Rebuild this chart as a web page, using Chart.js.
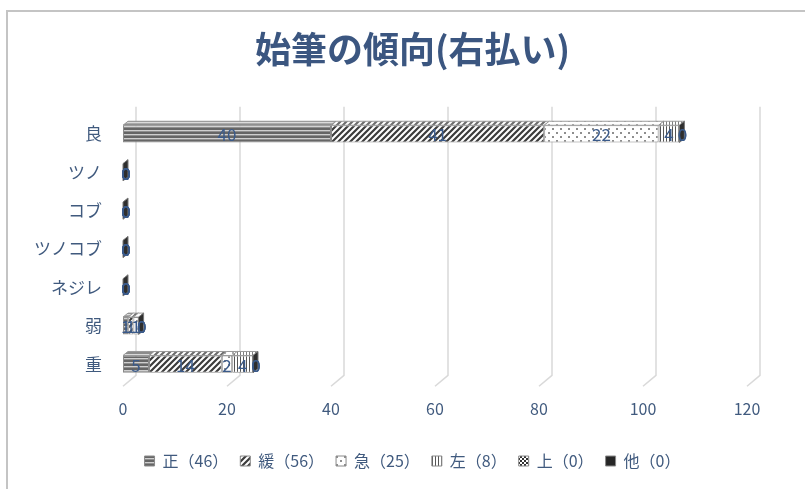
<!DOCTYPE html>
<html>
<head>
<meta charset="utf-8">
<script src="https://cdn.jsdelivr.net/npm/chart.js@4"></script>
<style>
  html, body { margin: 0; padding: 0; background: #fff; }
  #wrap { width: 805px; height: 489px; }
</style>
</head>
<body>
<div id="wrap"><canvas id="myChart" width="805" height="489"></canvas></div>
<script>
// chart data
const categories = ['良', 'ツノ', 'コブ', 'ツノコブ', 'ネジレ', '弱', '重'];
const seriesNames = ['正', '緩', '急', '左', '上', '他'];
const seiValues = [40, 0, 0, 0, 0, 1, 5];
const kanValues = [41, 0, 0, 0, 0, 1, 14];
const kyuValues = [22, 0, 0, 0, 0, 1, 2];
const hidariValues = [4, 0, 0, 0, 0, 0, 4];
const ueValues = [0, 0, 0, 0, 0, 0, 0];
const hokaValues = [0, 0, 0, 0, 0, 0, 0];
const xTickLabels = [0, 20, 40, 60, 80, 100, 120];

const titleText = '始筆の傾向(右払い)';
const textColor = '#405a7e';
const titleColor = '#3b5680';
const labelColor = '#3a5a8a';
const jpFont = "'Noto Sans CJK JP', 'Noto Sans', sans-serif";
const numFont = "'Liberation Sans Narrow', 'Noto Sans CJK JP', sans-serif";

// 3d depth of the bars and of the back wall
const barDx = 5, barDy = -4;
const wallDx = 13;

// fill patterns like the excel ones
const makePattern = (kind) => {
  const c = document.createElement('canvas');
  const g = c.getContext('2d');
  if (kind === 'horiz') {
    c.width = 4; c.height = 4;
    g.fillStyle = '#666666'; g.fillRect(0, 0, 4, 4);
    g.fillStyle = '#cfcfcf'; g.fillRect(0, 2, 4, 1);
    g.fillStyle = '#8e8e8e'; g.fillRect(0, 3, 4, 1);
  } else if (kind === 'diag') {
    c.width = 6; c.height = 6;
    g.fillStyle = '#ffffff'; g.fillRect(0, 0, 6, 6);
    g.strokeStyle = '#3c3c3c'; g.lineWidth = 2.2;
    g.beginPath();
    g.moveTo(-1, 7); g.lineTo(7, -1);
    g.moveTo(-4, 4); g.lineTo(4, -4);
    g.moveTo(2, 10); g.lineTo(10, 2);
    g.stroke();
  } else if (kind === 'dots') {
    c.width = 8; c.height = 8;
    g.fillStyle = '#ffffff'; g.fillRect(0, 0, 8, 8);
    g.fillStyle = '#8e8e8e';
    g.fillRect(0, 0, 2, 2); g.fillRect(4, 4, 2, 2);
  } else if (kind === 'vert') {
    c.width = 3; c.height = 3;
    g.fillStyle = '#ffffff'; g.fillRect(0, 0, 3, 3);
    g.fillStyle = '#555555'; g.fillRect(0, 0, 1, 3);
  } else if (kind === 'check') {
    c.width = 4; c.height = 4;
    g.fillStyle = '#ffffff'; g.fillRect(0, 0, 4, 4);
    g.fillStyle = '#333333'; g.fillRect(0, 0, 2, 2); g.fillRect(2, 2, 2, 2);
  } else {
    c.width = 2; c.height = 2;
    g.fillStyle = '#262626'; g.fillRect(0, 0, 2, 2);
  }
  return g.createPattern(c, 'repeat');
};

const seriesValues = [seiValues, kanValues, kyuValues, hidariValues, ueValues, hokaValues];
const seriesFills = ['horiz', 'diag', 'dots', 'vert', 'check', 'solid'].map(makePattern);

const sum = (arr) => arr.reduce((a, b) => a + b, 0);

const datasets = seriesNames.map((name, i) => ({
  label: name + '（' + sum(seriesValues[i]) + '）',
  data: seriesValues[i],
  backgroundColor: seriesFills[i],
  borderColor: '#8a8a8a',
  borderWidth: 1,
  borderSkipped: false,
  barPercentage: 0.45,
  categoryPercentage: 1,
}));

// outer frame (only top and left show in the picture)
const framePlugin = {
  id: 'frame',
  beforeDraw(chart) {
    const g = chart.ctx;
    g.save();
    g.fillStyle = '#ffffff';
    g.fillRect(0, 0, chart.width, chart.height);
    g.strokeStyle = '#c4c4c4';
    g.lineWidth = 2;
    g.beginPath();
    g.moveTo(7, chart.height);
    g.lineTo(7, 11);
    g.lineTo(chart.width, 11);
    g.stroke();
    g.restore();
  },
  // the y labels stick out left of the padded box: widen the label clip
  afterLayout(chart) {
    const ys = chart.scales.y;
    ys.left = 0;
    ys.width = ys.right;
  },
};

// gridlines on the back wall with the floor diagonal
const wallPlugin = {
  id: 'wall',
  beforeDatasetsDraw(chart) {
    const g = chart.ctx;
    const xs = chart.scales.x;
    const area = chart.chartArea;
    g.save();
    g.strokeStyle = '#d9d9d9';
    g.lineWidth = 1.5;
    xTickLabels.forEach((v) => {
      const x = xs.getPixelForValue(v);
      g.beginPath();
      g.moveTo(x + wallDx, area.top - 8);
      g.lineTo(x + wallDx, area.bottom - 8);
      g.lineTo(x, area.bottom + 3);
      g.stroke();
    });
    g.restore();
  },
};

// top and side faces of the bars, then the value labels
const bar3dPlugin = {
  id: 'bar3d',
  afterDatasetsDraw(chart) {
    const g = chart.ctx;
    const metas = chart.data.datasets.map((d, i) => chart.getDatasetMeta(i));
    g.save();
    categories.forEach((cat, j) => {
      let endX = null, top = 0, bottom = 0;
      metas.forEach((meta, i) => {
        const el = meta.data[j];
        const x0 = Math.min(el.base, el.x), x1 = Math.max(el.base, el.x);
        top = el.y - el.height / 2;
        bottom = el.y + el.height / 2;
        endX = endX === null ? x1 : Math.max(endX, x1);
        if (x1 - x0 < 0.5) return;
        g.beginPath();
        g.moveTo(x0, top);
        g.lineTo(x0 + barDx, top + barDy);
        g.lineTo(x1 + barDx, top + barDy);
        g.lineTo(x1, top);
        g.closePath();
        g.fillStyle = seriesFills[i];
        g.fill();
        g.fillStyle = 'rgba(255,255,255,0.25)';
        g.fill();
        g.strokeStyle = '#9a9a9a';
        g.lineWidth = 1;
        g.stroke();
      });
      // side face at the end of the stack
      g.beginPath();
      g.moveTo(endX, top);
      g.lineTo(endX + barDx, top + barDy);
      g.lineTo(endX + barDx, bottom + barDy);
      g.lineTo(endX, bottom);
      g.closePath();
      g.fillStyle = '#2e2e2e';
      g.fill();
      g.strokeStyle = '#777777';
      g.stroke();
    });

    // value labels
    g.font = '17px ' + numFont;
    g.fillStyle = labelColor;
    g.textAlign = 'center';
    g.textBaseline = 'middle';
    metas.forEach((meta, i) => {
      meta.data.forEach((el, j) => {
        const v = chart.data.datasets[i].data[j];
        const cx = v === 0 ? el.x + 3 : (el.x + el.base) / 2;
        g.fillText(String(v), cx, el.y + 1);
      });
    });
    g.restore();
  },
};

const config = {
  type: 'bar',
  data: { labels: categories, datasets: datasets },
  plugins: [framePlugin, wallPlugin, bar3dPlugin],
  options: {
    indexAxis: 'y',
    responsive: false,
    animation: false,
    layout: { padding: { top: 10, right: 58, bottom: 10, left: 78 } },
    scales: {
      x: {
        stacked: true,
        min: xTickLabels[0],
        max: xTickLabels[xTickLabels.length - 1],
        grid: { display: false, drawTicks: false },
        border: { display: false },
        ticks: {
          stepSize: 20,
          color: textColor,
          font: { size: 16, family: numFont },
          padding: 16,
        },
        afterFit(s) { s.height = 57.7; },
      },
      y: {
        stacked: true,
        grid: { display: false, drawTicks: false },
        border: { display: false },
        ticks: {
          color: textColor,
          font: { size: 17, family: jpFont },
          padding: 21,
        },
        afterFit(s) { s.width = 45; },
      },
    },
    plugins: {
      title: {
        display: true,
        text: titleText,
        color: titleColor,
        font: { size: 36, weight: 'bold', family: jpFont },
        padding: { top: 18, bottom: 43.5 },
      },
      legend: {
        position: 'bottom',
        labels: {
          color: textColor,
          font: { size: 16, family: jpFont },
          boxWidth: 10,
          boxHeight: 10,
          padding: 12,
        },
      },
      tooltip: { enabled: false },
    },
  },
};

new Chart(document.getElementById('myChart'), config);
</script>
</body>
</html>
